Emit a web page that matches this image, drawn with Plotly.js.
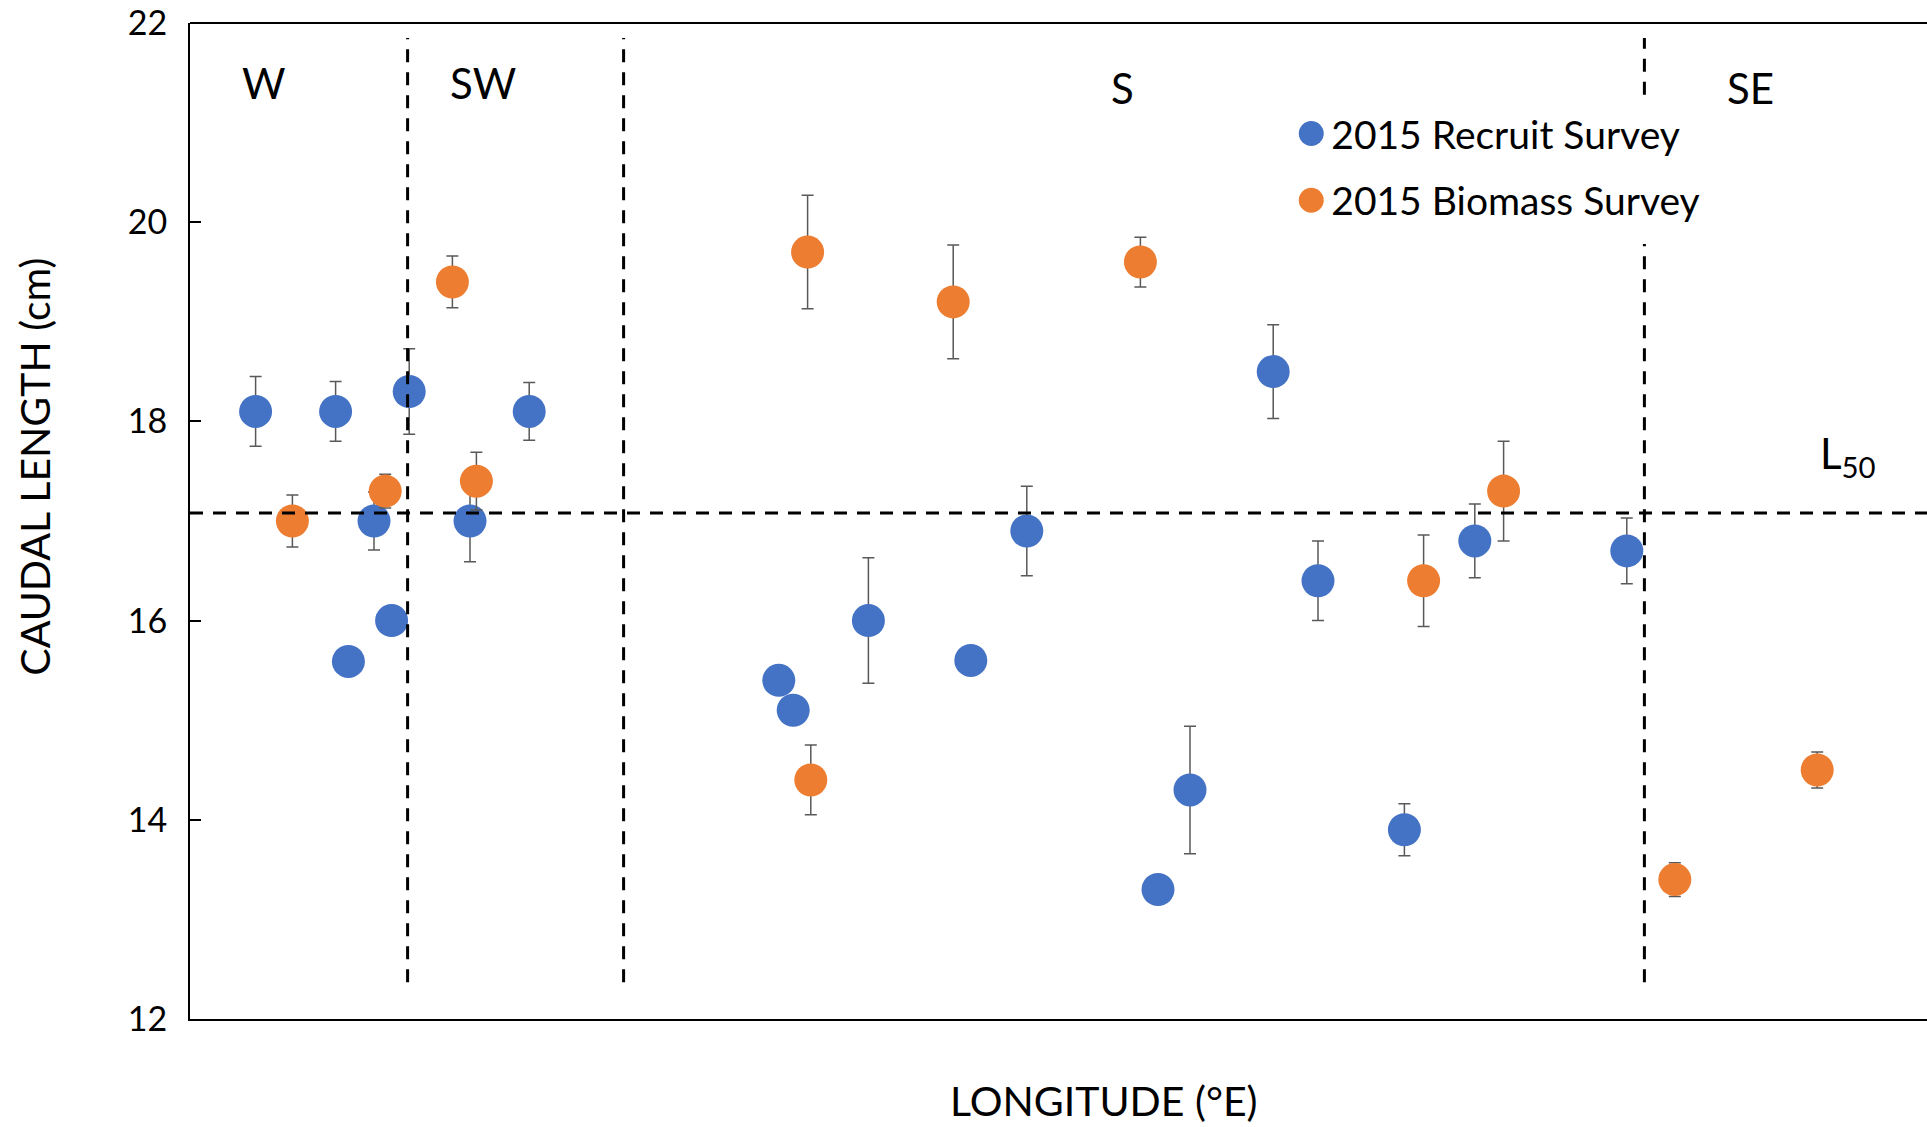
<!DOCTYPE html>
<html>
<head>
<meta charset="utf-8">
<script src="https://cdn.plot.ly/plotly-3.0.1.min.js"></script>
<style>html,body{margin:0;padding:0;background:#fff;overflow:hidden}</style>
</head>
<body>
<div id="chart" style="width:1927px;height:1127px"></div>
<script>
// ---- Data (longitude °E, caudal length cm, error) ----
const recruitLon = [17.91, 18.41, 18.49, 18.65, 18.76, 18.87, 19.25, 19.62, 21.18, 21.27, 21.74, 22.38, 22.73, 23.55, 23.75, 24.27, 24.55, 25.09, 25.53, 26.48];
const recruitLen = [18.10, 18.10, 15.59, 17.00, 16.00, 18.30, 17.00, 18.10, 15.40, 15.10, 16.00, 15.60, 16.90, 13.30, 14.30, 18.50, 16.40, 13.90, 16.80, 16.70];
const recruitErr = [0.35, 0.30, 0, 0.29, 0, 0.43, 0.41, 0.29, 0, 0, 0.63, 0, 0.45, 0, 0.64, 0.47, 0.40, 0.26, 0.37, 0.33];

const biomassLon = [18.14, 18.72, 19.14, 19.29, 21.36, 21.38, 22.27, 23.44, 25.21, 25.71, 26.78, 27.67];
const biomassLen = [17.00, 17.30, 19.40, 17.40, 19.70, 14.40, 19.20, 19.60, 16.40, 17.30, 13.40, 14.50];
const biomassErr = [0.26, 0.17, 0.26, 0.29, 0.57, 0.35, 0.57, 0.25, 0.46, 0.50, 0.17, 0.18];

const seriesNames = ['2015 Recruit Survey', '2015 Biomass Survey'];
const regionNames = ['W', 'SW', 'S', 'SE'];
const regionBounds = [18.86, 20.21, 26.59];   // boundary longitudes between regions
const L50 = 17.08;
const yTicks = [12, 14, 16, 18, 20, 22];

const FONT = 'Lato, "Open Sans", sans-serif';
const errStyle = {color: '#595959', thickness: 1.5, width: 6};

const traces = [
  {
    type: 'scatter', mode: 'markers', name: seriesNames[0], legendgroup: 'a',
    x: recruitLon, y: recruitLen,
    marker: {color: '#4472C4', size: 33},
    error_y: Object.assign({type: 'data', array: recruitErr, visible: true}, errStyle)
  },
  {
    type: 'scatter', mode: 'markers', name: seriesNames[1], legendgroup: 'b',
    x: biomassLon, y: biomassLen,
    marker: {color: '#ED7D31', size: 33},
    error_y: Object.assign({type: 'data', array: biomassErr, visible: true}, errStyle)
  }
];

const dashLine = {color: '#000', width: 3, dash: '13px,10px'};
const shapes = [
  {type: 'line', xref: 'x', yref: 'y', x0: regionBounds[0], x1: regionBounds[0], y0: 12.37, y1: 21.85, line: dashLine},
  {type: 'line', xref: 'x', yref: 'y', x0: regionBounds[1], x1: regionBounds[1], y0: 12.37, y1: 21.85, line: dashLine},
  {type: 'line', xref: 'x', yref: 'y', x0: regionBounds[2], x1: regionBounds[2], y0: 21.28, y1: 21.85, line: dashLine},
  {type: 'line', xref: 'x', yref: 'y', x0: regionBounds[2], x1: regionBounds[2], y0: 12.37, y1: 19.78, line: dashLine},
  {type: 'line', xref: 'paper', yref: 'y', x0: 0, x1: 1, y0: L50, y1: L50, line: dashLine},
  {type: 'line', xref: 'paper', yref: 'paper', x0: 0, x1: 1, y0: 1, y1: 1, line: {color: '#000', width: 2}}
];

const regionLabelPos = [[17.96, 21.40], [19.33, 21.40], [23.33, 21.35], [27.25, 21.35]];
const annotations = regionNames.map((n, i) => ({
  text: n, x: regionLabelPos[i][0], y: regionLabelPos[i][1], xref: 'x', yref: 'y',
  showarrow: false, xanchor: 'center', yanchor: 'middle',
  font: {family: FONT, size: 42, color: '#000'}
}));
annotations.push({
  text: 'L<sub>50</sub>', x: 27.865, y: 17.65, xref: 'x', yref: 'y', showarrow: false,
  xanchor: 'center', yanchor: 'middle', font: {family: FONT, size: 42, color: '#000'}
});
annotations.push({
  text: 'LONGITUDE (°E)', x: 0.5262, y: -0.0823, xref: 'paper', yref: 'paper', showarrow: false,
  xanchor: 'center', yanchor: 'middle', font: {family: FONT, size: 41, color: '#000'}
});
annotations.push({
  text: 'CAUDAL LENGTH (cm)', x: -0.0895, y: 0.554, xref: 'paper', yref: 'paper', showarrow: false,
  textangle: -90, xanchor: 'center', yanchor: 'middle', font: {family: FONT, size: 41, color: '#000'}
});

const layout = {
  width: 1927, height: 1127,
  margin: {l: 190, r: 0, t: 23, b: 108, pad: 0},
  paper_bgcolor: '#fff', plot_bgcolor: '#fff',
  font: {family: FONT, color: '#000'},
  showlegend: true,
  legend: {
    x: 0.634, xanchor: 'left', y: 0.921, yanchor: 'top',
    bgcolor: 'rgba(0,0,0,0)', borderwidth: 0,
    font: {family: FONT, size: 39, color: '#000'},
    traceorder: 'grouped', tracegroupgap: 13
  },
  xaxis: {
    range: [17.5, 17.5 + 1737 / 160], showgrid: false, zeroline: false,
    showline: true, linecolor: '#000', linewidth: 2,
    showticklabels: false, ticks: ''
  },
  yaxis: {
    range: [12, 22], tickvals: yTicks, ticktext: yTicks.map(String),
    showgrid: false, zeroline: false,
    showline: true, linecolor: '#000', linewidth: 2,
    ticks: 'inside', ticklen: 11, tickwidth: 2, tickcolor: '#000',
    ticklabelstandoff: 14,
    tickfont: {family: FONT, size: 34, color: '#000'}
  },
  shapes: shapes,
  annotations: annotations
};

Plotly.newPlot('chart', traces, layout, {displayModeBar: false, staticPlot: true}).then(gd => {
  gd.querySelectorAll('.legend .legendpoints path.scatterpts').forEach(p => {
    const t = p.getAttribute('transform') || '';
    p.setAttribute('transform', t + ' scale(1.56)');
  });
});
</script>
</body>
</html>
